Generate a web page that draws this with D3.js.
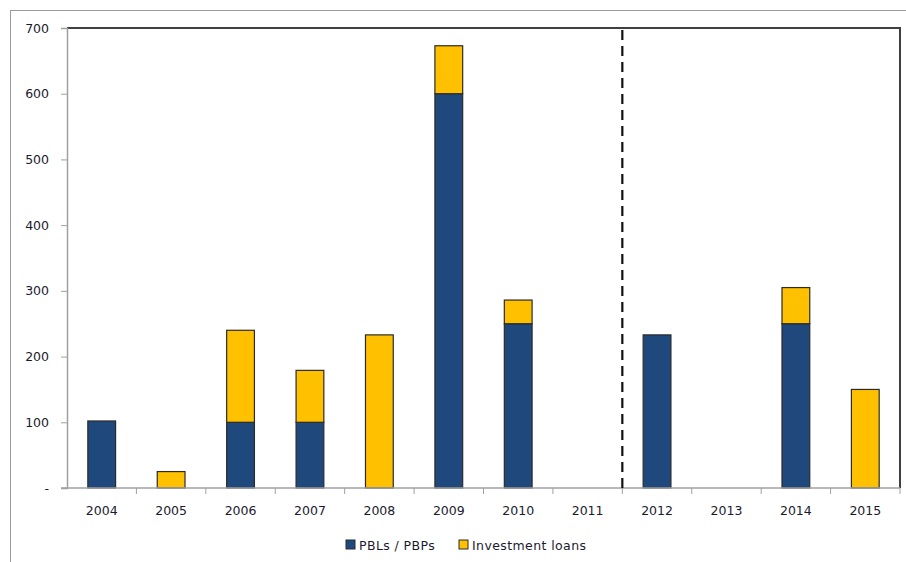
<!DOCTYPE html>
<html>
<head>
<meta charset="utf-8">
<script src="https://cdn.jsdelivr.net/npm/d3@7"></script>
<style>
  html, body { margin: 0; padding: 0; background: #fff; }
  svg { display: block; }
  text { font-family: "DejaVu Sans", Verdana, sans-serif; font-size: 12.5px; fill: #1a1a2e; }
</style>
</head>
<body>
<svg id="chart" width="906" height="562"></svg>
<script>
// Annual approvals by instrument type
const years = ["2004","2005","2006","2007","2008","2009","2010","2011","2012","2013","2014","2015"];
const pblValues = [102, 0, 100, 100, 0, 600, 250, 0, 233, 0, 250, 0];
const investmentValues = [0, 25, 140, 79, 233, 73, 36, 0, 0, 0, 55, 150];
const yTicks = [0, 100, 200, 300, 400, 500, 600, 700];
const seriesNames = ["PBLs / PBPs", "Investment loans"];
const seriesColors = ["#1f497d", "#ffc000"];
const dividerAfter = "2011";

const svg = d3.select("#chart");
const margin = { left: 67, top: 28, right: 906 - 900, bottom: 562 - 488 };
const W = 906, H = 562;

// outer frame
svg.append("rect")
  .attr("x", 10.5).attr("y", 10.5)
  .attr("width", 906).attr("height", 600)
  .attr("fill", "none").attr("stroke", "#9a9a9a").attr("stroke-width", 1);

const x = d3.scaleBand().domain(years)
  .range([margin.left, W - margin.right]).paddingInner(0).paddingOuter(0);
const y = d3.scaleLinear().domain([0, 700]).range([H - margin.bottom, margin.top]);

const rows = years.map((yr, i) => ({ year: yr, pbl: pblValues[i], inv: investmentValues[i] }));
const stacked = d3.stack().keys(["pbl", "inv"])(rows);

// plot frame: dark top and right edges
svg.append("path")
  .attr("d", `M${margin.left},${y(700)}H${x.range()[1]}V${y(0)}`)
  .attr("fill", "none").attr("stroke", "#404040").attr("stroke-width", 2);

// y axis
const yAxis = svg.append("g").attr("transform", `translate(${margin.left},0)`)
  .call(d3.axisLeft(y).tickValues(yTicks).tickSize(6).tickPadding(12)
    .tickFormat(d => d === 0 ? "-" : d3.format("d")(d)));
yAxis.select(".domain").attr("stroke", "#a0a0a0").attr("stroke-width", 1.5);
yAxis.selectAll(".tick line").attr("stroke", "#a0a0a0");
yAxis.selectAll(".tick text").style("font-size", "12.5px").attr("fill", "#1a1a2e");

// bars
const barW = x.bandwidth() * 0.4;
svg.append("g").selectAll("g").data(stacked).join("g")
  .attr("fill", (d, i) => seriesColors[i])
  .selectAll("rect").data(d => d.filter(s => s[1] - s[0] > 0)).join("rect")
  .attr("x", d => x(d.data.year) + (x.bandwidth() - barW) / 2)
  .attr("width", barW)
  .attr("y", d => y(d[1]))
  .attr("height", d => y(d[0]) - y(d[1]))
  .attr("stroke", "#2b2b2b").attr("stroke-width", 1.2);

// x axis with ticks at category boundaries
const xAxisG = svg.append("g").attr("transform", `translate(0,${y(0)})`);
xAxisG.append("line")
  .attr("x1", x.range()[0] - 6).attr("x2", x.range()[1])
  .attr("stroke", "#a0a0a0").attr("stroke-width", 1.5);
xAxisG.selectAll("line.tk").data(years.slice(1).concat(["end"])).join("line")
  .attr("class", "tk")
  .attr("x1", (d, i) => x.range()[0] + (i + 1) * x.bandwidth())
  .attr("x2", (d, i) => x.range()[0] + (i + 1) * x.bandwidth())
  .attr("y1", 0).attr("y2", 6)
  .attr("stroke", "#a0a0a0");
xAxisG.selectAll("text").data(years).join("text")
  .attr("x", d => x(d) + x.bandwidth() / 2)
  .attr("y", 27)
  .attr("text-anchor", "middle")
  .text(d => d);

// dashed divider
const xd = x(dividerAfter) + x.bandwidth();
svg.append("line")
  .attr("x1", xd).attr("x2", xd)
  .attr("y1", y(700) + 2).attr("y2", y(0))
  .attr("stroke", "#111").attr("stroke-width", 2.2)
  .attr("stroke-dasharray", "10,6");

// legend
const legend = svg.append("g").attr("transform", "translate(346,545)");
const legendItems = [{ x: 0 }, { x: 113 }];
legendItems.forEach((it, i) => {
  const g = legend.append("g").attr("transform", `translate(${it.x},0)`);
  g.append("rect").attr("x", 0).attr("y", -5).attr("width", 9).attr("height", 9)
    .attr("fill", seriesColors[i]).attr("stroke", "#2b2b2b").attr("stroke-width", 1);
  g.append("text").attr("x", 13).attr("y", 4.5)
    .style("letter-spacing", "0.4px").text(seriesNames[i]);
});
</script>
</body>
</html>
